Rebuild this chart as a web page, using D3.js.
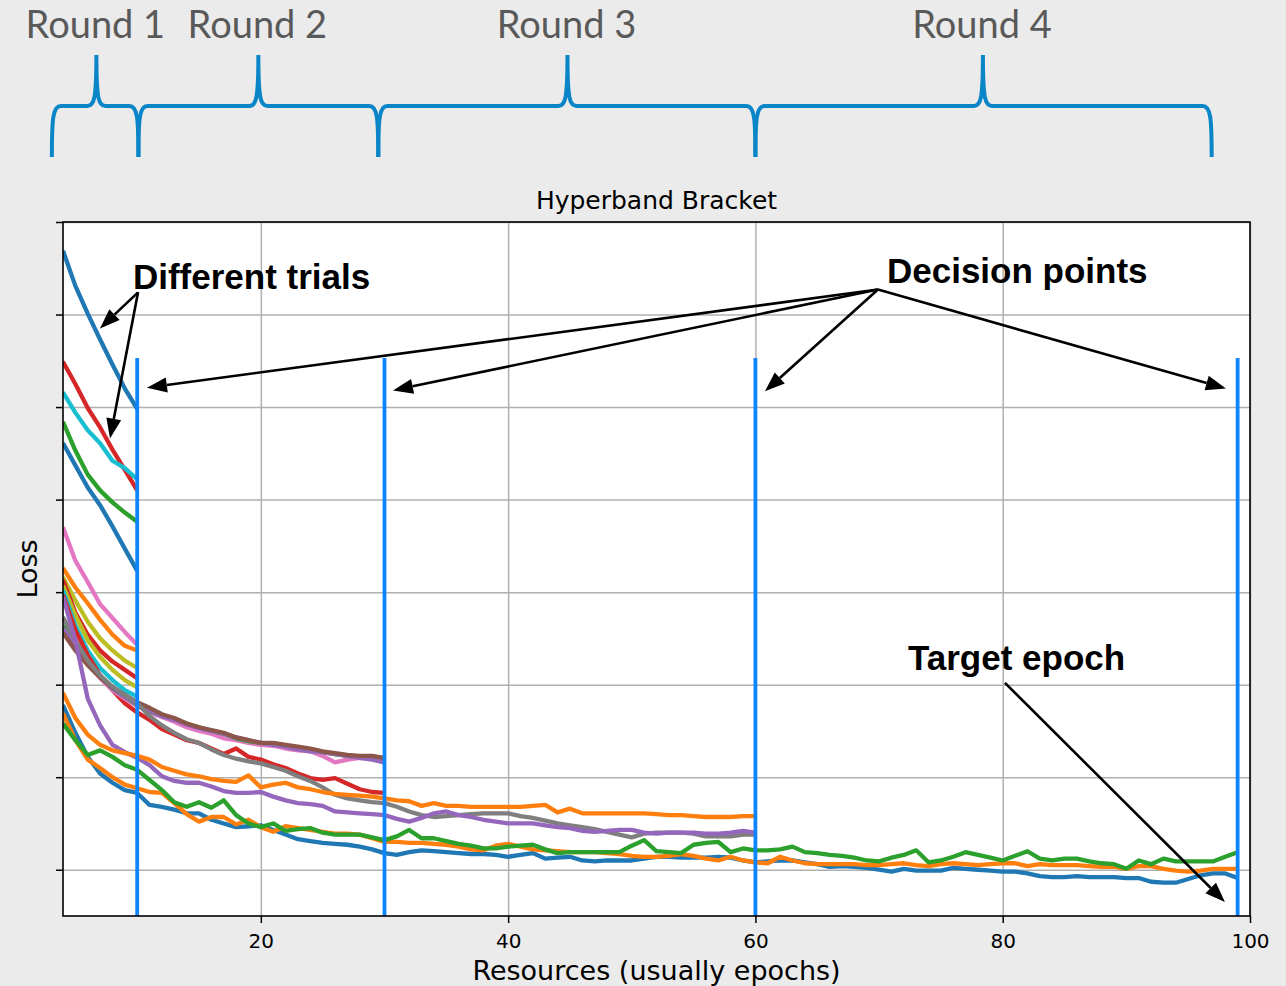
<!DOCTYPE html>
<html>
<head>
<meta charset="utf-8">
<script src="https://cdnjs.cloudflare.com/ajax/libs/d3/7.8.5/d3.min.js"></script>
<style>
	html, body { margin: 0; padding: 0; background: #ebebeb; }
	svg { display: block; }
</style>
</head>
<body>
<svg id="chart" width="1286" height="986"></svg>
<script>

// ---------- data ----------
var startEpoch = 4;                         // first epoch of every trial curve
var xTicks = [20, 40, 60, 80, 100];
var yTicks = [0.2, 0.3, 0.4, 0.5, 0.6, 0.7, 0.8, 0.9];   // no labels on the loss axis
var decisionEpochs = [10, 30, 60, 99];
var decisionTop = 0.753;

var roundLabels = ["Round 1", "Round 2", "Round 3", "Round 4"];
var roundStart  = [3.1, 10.1, 29.5, 60.0];
var roundPeak   = [6.7, 19.8, 44.8, 78.4];
var roundEnd    = [10.1, 29.5, 60.0, 96.9];

// round 1: trials stopped at epoch 10
var round1Loss = [
	[0.869, 0.831, 0.801, 0.773, 0.746, 0.720, 0.698],
	[0.749, 0.725, 0.699, 0.678, 0.654, 0.632, 0.610],
	[0.716, 0.694, 0.675, 0.661, 0.642, 0.634, 0.622],
	[0.684, 0.653, 0.627, 0.610, 0.597, 0.586, 0.576],
	[0.661, 0.637, 0.613, 0.594, 0.571, 0.547, 0.523],
	[0.570, 0.534, 0.511, 0.487, 0.472, 0.457, 0.443],
	[0.526, 0.505, 0.488, 0.470, 0.454, 0.442, 0.437],
	[0.516, 0.491, 0.468, 0.450, 0.437, 0.426, 0.418],
	[0.513, 0.478, 0.454, 0.437, 0.425, 0.416, 0.407],
	[0.507, 0.475, 0.448, 0.430, 0.416, 0.405, 0.397],
	[0.502, 0.464, 0.437, 0.418, 0.405, 0.394, 0.387]
];
var round1Colors = ["#1f77b4", "#d62728", "#17becf", "#2ca02c", "#1f77b4", "#e377c2",
                    "#ff7f0e", "#bcbd22", "#d62728", "#bcbd22", "#17becf"];

// round 2: trials stopped at epoch 30
var round2Loss = [
	[0.497, 0.459, 0.432, 0.410, 0.394, 0.380, 0.370, 0.362, 0.352, 0.346, 0.340, 0.337, 0.331, 0.325,
	 0.331, 0.322, 0.319, 0.314, 0.310, 0.304, 0.299, 0.297, 0.299, 0.293, 0.287, 0.284, 0.283],
	[0.459, 0.439, 0.422, 0.407, 0.394, 0.385, 0.377, 0.370, 0.365, 0.360, 0.354, 0.350, 0.347, 0.342,
	 0.340, 0.337, 0.335, 0.334, 0.331, 0.329, 0.328, 0.323, 0.316, 0.319, 0.321, 0.320, 0.317],
	[0.464, 0.443, 0.424, 0.409, 0.396, 0.387, 0.378, 0.371, 0.367, 0.363, 0.358, 0.354, 0.350, 0.347,
	 0.342, 0.339, 0.337, 0.336, 0.334, 0.331, 0.329, 0.327, 0.325, 0.323, 0.322, 0.320, 0.316],
	[0.461, 0.443, 0.424, 0.409, 0.396, 0.387, 0.379, 0.372, 0.366, 0.362, 0.357, 0.353, 0.350, 0.347,
	 0.343, 0.340, 0.337, 0.335, 0.333, 0.330, 0.328, 0.327, 0.325, 0.323, 0.321, 0.319, 0.316],
	[0.456, 0.437, 0.421, 0.408, 0.397, 0.389, 0.381, 0.375, 0.368, 0.364, 0.358, 0.354, 0.351, 0.348,
	 0.343, 0.340, 0.337, 0.337, 0.335, 0.333, 0.331, 0.328, 0.326, 0.324, 0.323, 0.323, 0.321]
];
var round2Colors = ["#d62728", "#e377c2", "#2ca02c", "#9467bd", "#8c564b"];

// round 3: trials stopped at epoch 60
var round3Loss = [
	[0.473, 0.448, 0.426, 0.410, 0.398, 0.389, 0.380, 0.366, 0.356, 0.348,
	 0.341, 0.337, 0.330, 0.324, 0.320, 0.317, 0.315, 0.311, 0.307, 0.301,
	 0.296, 0.289, 0.281, 0.277, 0.275, 0.273, 0.272, 0.268, 0.263, 0.259,
	 0.257, 0.258, 0.259, 0.260, 0.261, 0.261, 0.261, 0.258, 0.256, 0.253,
	 0.250, 0.248, 0.246, 0.244, 0.241, 0.238, 0.235, 0.239, 0.240, 0.240,
	 0.240, 0.239, 0.236, 0.236, 0.236, 0.238, 0.238],
	[0.495, 0.448, 0.385, 0.356, 0.335, 0.327, 0.321, 0.313, 0.301, 0.296,
	 0.294, 0.294, 0.290, 0.285, 0.283, 0.283, 0.284, 0.279, 0.275, 0.272,
	 0.271, 0.269, 0.263, 0.262, 0.261, 0.260, 0.259, 0.255, 0.252, 0.256,
	 0.261, 0.263, 0.259, 0.257, 0.254, 0.252, 0.250, 0.250, 0.250, 0.248,
	 0.246, 0.245, 0.242, 0.241, 0.242, 0.243, 0.243, 0.240, 0.239, 0.240,
	 0.240, 0.240, 0.239, 0.239, 0.240, 0.242, 0.240],
	[0.391, 0.364, 0.346, 0.335, 0.329, 0.326, 0.323, 0.319, 0.311, 0.307,
	 0.303, 0.301, 0.298, 0.296, 0.295, 0.302, 0.289, 0.292, 0.294, 0.289,
	 0.287, 0.284, 0.282, 0.281, 0.280, 0.279, 0.277, 0.275, 0.274, 0.269,
	 0.272, 0.269, 0.269, 0.268, 0.268, 0.268, 0.268, 0.268, 0.269, 0.270,
	 0.262, 0.266, 0.261, 0.261, 0.261, 0.261, 0.261, 0.261, 0.260, 0.259,
	 0.259, 0.258, 0.257, 0.257, 0.257, 0.258, 0.258]
];
var round3Colors = ["#7f7f7f", "#9467bd", "#ff7f0e"];

// round 4: trials run to the target epoch
var round4Loss = [
	[0.378, 0.348, 0.322, 0.304, 0.294, 0.286, 0.283, 0.270, 0.268, 0.265,
	 0.261, 0.261, 0.254, 0.250, 0.246, 0.247, 0.248, 0.243, 0.238, 0.233,
	 0.231, 0.229, 0.228, 0.227, 0.225, 0.222, 0.218, 0.216, 0.219, 0.221,
	 0.220, 0.219, 0.218, 0.217, 0.217, 0.216, 0.214, 0.216, 0.218, 0.212,
	 0.213, 0.214, 0.210, 0.209, 0.210, 0.210, 0.210, 0.212, 0.214, 0.214,
	 0.213, 0.213, 0.213, 0.214, 0.213, 0.210, 0.208, 0.209, 0.210, 0.210,
	 0.208, 0.206, 0.203, 0.204, 0.203, 0.202, 0.200, 0.198, 0.201, 0.199,
	 0.199, 0.199, 0.202, 0.201, 0.200, 0.199, 0.198, 0.198, 0.196, 0.193,
	 0.192, 0.192, 0.193, 0.192, 0.192, 0.192, 0.191, 0.191, 0.187, 0.186,
	 0.186, 0.190, 0.194, 0.196, 0.196, 0.191],
	[0.369, 0.340, 0.319, 0.310, 0.300, 0.292, 0.288, 0.284, 0.283, 0.272,
	 0.260, 0.252, 0.257, 0.257, 0.249, 0.254, 0.246, 0.241, 0.247, 0.245,
	 0.243, 0.241, 0.239, 0.239, 0.238, 0.234, 0.230, 0.230, 0.229, 0.229,
	 0.228, 0.227, 0.225, 0.222, 0.221, 0.226, 0.228, 0.225, 0.222, 0.221,
	 0.220, 0.219, 0.219, 0.219, 0.218, 0.217, 0.215, 0.214, 0.214, 0.215,
	 0.217, 0.215, 0.212, 0.210, 0.214, 0.210, 0.208, 0.207, 0.214, 0.210,
	 0.207, 0.206, 0.206, 0.206, 0.206, 0.205, 0.205, 0.206, 0.207, 0.205,
	 0.204, 0.206, 0.207, 0.206, 0.205, 0.206, 0.207, 0.207, 0.204, 0.206,
	 0.205, 0.205, 0.205, 0.204, 0.203, 0.203, 0.201, 0.204, 0.204, 0.201,
	 0.199, 0.198, 0.199, 0.201, 0.201, 0.201],
	[0.358, 0.340, 0.324, 0.329, 0.322, 0.313, 0.308, 0.297, 0.286, 0.273,
	 0.268, 0.273, 0.267, 0.275, 0.259, 0.250, 0.246, 0.250, 0.242, 0.244,
	 0.245, 0.240, 0.238, 0.238, 0.238, 0.235, 0.232, 0.236, 0.243, 0.234,
	 0.234, 0.231, 0.228, 0.226, 0.223, 0.223, 0.225, 0.226, 0.227, 0.222,
	 0.218, 0.219, 0.219, 0.219, 0.219, 0.219, 0.226, 0.232, 0.220, 0.219,
	 0.218, 0.227, 0.229, 0.230, 0.219, 0.223, 0.221, 0.221, 0.222, 0.225,
	 0.219, 0.218, 0.216, 0.215, 0.213, 0.210, 0.209, 0.213, 0.216, 0.221,
	 0.208, 0.210, 0.214, 0.219, 0.216, 0.213, 0.210, 0.215, 0.220, 0.212,
	 0.210, 0.212, 0.212, 0.209, 0.207, 0.206, 0.201, 0.210, 0.206, 0.212,
	 0.209, 0.209, 0.209, 0.209, 0.214, 0.219]
];
var round4Colors = ["#1f77b4", "#ff7f0e", "#2ca02c"];

// annotations, in (epoch, loss)
var trialsLabel = [9.66, 0.828];
var trialsFrom = [10.07, 0.824];
var trialsTo = [[6.99, 0.785], [7.80, 0.666]];
var decisionLabel = [70.64, 0.834];
var decisionFrom = [69.91, 0.827];
var decisionTo = [[10.79, 0.721], [30.69, 0.718], [60.77, 0.717], [98.05, 0.720]];
var targetLabel = [72.34, 0.416];
var targetFrom = [80.18, 0.402];
var targetTo = [97.97, 0.165];


// ---------- scales ----------
var x = d3.scaleLinear().domain([startEpoch, 100]).range([63, 1250]);
var y = d3.scaleLinear().domain([0.15, 0.9]).range([916, 222]);

var svg = d3.select("#chart");
var plotW = x.range()[1] - x.range()[0];
var plotH = y.range()[0] - y.range()[1];

svg.append("defs").append("clipPath").attr("id", "plotclip")
	.append("rect")
	.attr("x", x.range()[0]).attr("y", y.range()[1])
	.attr("width", plotW).attr("height", plotH);

// white plot area
svg.append("rect")
	.attr("x", x.range()[0]).attr("y", y.range()[1])
	.attr("width", plotW).attr("height", plotH)
	.attr("fill", "#ffffff");

// grid
svg.append("g")
	.attr("transform", "translate(0," + y.range()[0] + ")")
	.call(d3.axisBottom(x).tickValues(xTicks).tickSize(-plotH).tickFormat(""))
	.call(function (g) {
		g.select(".domain").remove();
		g.selectAll("line").attr("stroke", "#b0b0b0").attr("stroke-width", 1.5);
	});
svg.append("g")
	.attr("transform", "translate(" + x.range()[0] + ",0)")
	.call(d3.axisLeft(y).tickValues(yTicks).tickSize(-plotW).tickFormat(""))
	.call(function (g) {
		g.select(".domain").remove();
		g.selectAll("line").attr("stroke", "#b0b0b0").attr("stroke-width", 1.5);
	});

// ---------- trial curves ----------
var plot = svg.append("g").attr("clip-path", "url(#plotclip)");

var line = d3.line()
	.x(function (d, i) { return x(startEpoch + i); })
	.y(function (d) { return y(d); });

function drawTrials(lossList, colors) {
	plot.append("g").selectAll("path")
		.data(lossList)
		.enter().append("path")
		.attr("d", line)
		.attr("fill", "none")
		.attr("stroke", function (d, i) { return colors[i]; })
		.attr("stroke-width", 4.3)
		.attr("stroke-linejoin", "round");
} // end drawTrials()

drawTrials(round1Loss, round1Colors);
drawTrials(round2Loss, round2Colors);
drawTrials(round3Loss, round3Colors);
drawTrials(round4Loss, round4Colors);

// decision points
svg.append("g").selectAll("line")
	.data(decisionEpochs)
	.enter().append("line")
	.attr("x1", function (d) { return x(d); })
	.attr("x2", function (d) { return x(d); })
	.attr("y1", y(decisionTop))
	.attr("y2", y.range()[0])
	.attr("stroke", "#0d85ff")
	.attr("stroke-width", 3.8);

// ---------- axes ----------
svg.append("g")
	.attr("transform", "translate(0," + y.range()[0] + ")")
	.call(d3.axisBottom(x).tickValues(xTicks).tickSize(7).tickPadding(11))
	.call(function (g) {
		g.select(".domain").remove();
		g.selectAll("line").attr("stroke", "#000").attr("stroke-width", 1.5);
		g.selectAll("text")
			.attr("fill", "#000")
			.style("font-family", "'DejaVu Sans', sans-serif")
			.style("font-size", "20px");
	});

svg.append("g")
	.attr("transform", "translate(" + x.range()[0] + ",0)")
	.call(d3.axisLeft(y).tickValues(yTicks).tickSize(7).tickFormat(""))
	.call(function (g) {
		g.select(".domain").remove();
		g.selectAll("line").attr("stroke", "#000").attr("stroke-width", 1.5);
	});

// frame
svg.append("rect")
	.attr("x", x.range()[0]).attr("y", y.range()[1])
	.attr("width", plotW).attr("height", plotH)
	.attr("fill", "none")
	.attr("stroke", "#000")
	.attr("stroke-width", 1.6);

var midX = (x.range()[0] + x.range()[1]) / 2;

svg.append("text")
	.attr("x", midX).attr("y", 209)
	.attr("text-anchor", "middle")
	.style("font-family", "'DejaVu Sans', sans-serif")
	.style("font-size", "25px")
	.text("Hyperband Bracket");

svg.append("text")
	.attr("x", midX).attr("y", 980)
	.attr("text-anchor", "middle")
	.style("font-family", "'DejaVu Sans', sans-serif")
	.style("font-size", "27px")
	.text("Resources (usually epochs)");

svg.append("text")
	.attr("transform", "translate(37," + ((y.range()[0] + y.range()[1]) / 2) + ") rotate(-90)")
	.attr("text-anchor", "middle")
	.style("font-family", "'DejaVu Sans', sans-serif")
	.style("font-size", "27px")
	.text("Loss");

// ---------- annotations ----------
var notes = svg.append("g");

function drawArrow(from, to) {
	var x1 = x(from[0]), y1 = y(from[1]);
	var x2 = x(to[0]), y2 = y(to[1]);
	var ang = Math.atan2(y2 - y1, x2 - x1);
	var headLen = 20, headW = 7.5;
	var bx = x2 - headLen * Math.cos(ang);
	var by = y2 - headLen * Math.sin(ang);

	notes.append("line")
		.attr("x1", x1).attr("y1", y1)
		.attr("x2", bx).attr("y2", by)
		.attr("stroke", "#000")
		.attr("stroke-width", 2.6);

	notes.append("polygon")
		.attr("points", [
			[x2, y2],
			[bx - headW * Math.sin(ang), by + headW * Math.cos(ang)],
			[bx + headW * Math.sin(ang), by - headW * Math.cos(ang)]
		].map(function (p) { return p.join(","); }).join(" "))
		.attr("fill", "#000");
} // end drawArrow()

function drawNote(pos, label) {
	notes.append("text")
		.attr("x", x(pos[0])).attr("y", y(pos[1]))
		.style("font-family", "'Liberation Sans', Arial, sans-serif")
		.style("font-weight", "bold")
		.style("font-size", "35px")
		.text(label);
}

drawNote(trialsLabel, "Different trials");
trialsTo.forEach(function (t) { drawArrow(trialsFrom, t); });

drawNote(decisionLabel, "Decision points");
decisionTo.forEach(function (t) { drawArrow(decisionFrom, t); });

drawNote(targetLabel, "Target epoch");
drawArrow(targetFrom, targetTo);

// ---------- round braces on top ----------
var braceTop = 55, braceMid = 106, braceBottom = 157;

function bracePath(x0, xm, x1) {
	return "M" + x0 + "," + braceBottom +
		" C" + x0 + "," + (braceMid + 12) + " " + (x0 + 1) + "," + braceMid + " " + (x0 + 9) + "," + braceMid +
		" L" + (xm - 9) + "," + braceMid +
		" C" + (xm - 2) + "," + braceMid + " " + xm + "," + (braceMid - 8) + " " + xm + "," + braceTop +
		" C" + xm + "," + (braceMid - 8) + " " + (xm + 2) + "," + braceMid + " " + (xm + 9) + "," + braceMid +
		" L" + (x1 - 9) + "," + braceMid +
		" C" + (x1 - 1) + "," + braceMid + " " + x1 + "," + (braceMid + 12) + " " + x1 + "," + braceBottom;
}

var rounds = svg.append("g");
roundLabels.forEach(function (label, i) {
	rounds.append("path")
		.attr("d", bracePath(x(roundStart[i]), x(roundPeak[i]), x(roundEnd[i])))
		.attr("fill", "none")
		.attr("stroke", "#0a86c8")
		.attr("stroke-width", 4);

	rounds.append("text")
		.attr("x", x(roundPeak[i]) - 1).attr("y", 38)
		.attr("text-anchor", "middle")
		.attr("fill", "#595959")
		.style("font-family", "Lato, 'Open Sans', sans-serif")
		.style("font-size", "38px")
		.text(label);
});

</script>
</body>
</html>
